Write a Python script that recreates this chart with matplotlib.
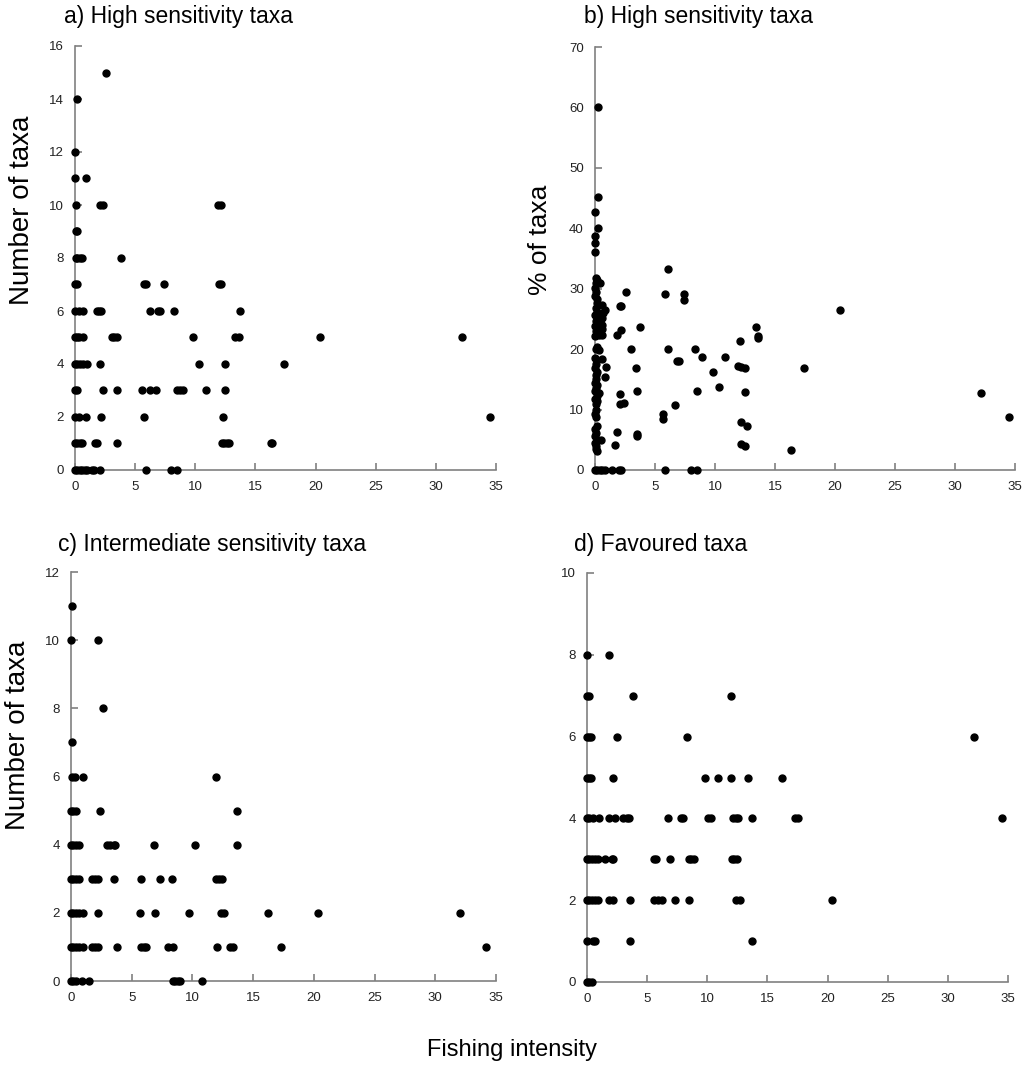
import matplotlib
matplotlib.use("Agg")
import matplotlib.pyplot as plt

plt.rcParams['font.family'] = ['Liberation Sans', 'DejaVu Sans']

# ---------------- data ----------------
# a) High sensitivity taxa: number of taxa vs fishing intensity
a_x = [2.6,
       0.2,
       0.0,
       0.0, 0.9,
       0.1, 2.1, 2.3, 11.9, 12.1,
       0.1, 0.2,
       0.05, 0.2, 0.4, 0.6, 3.8,
       0.0, 0.15, 5.75, 5.9, 7.4, 11.95, 12.1,
       0.0, 0.3, 0.65, 1.8, 2.0, 2.2, 6.2, 6.9, 7.1, 8.25, 13.7,
       0.0, 0.15, 0.35, 0.65, 3.05, 3.25, 3.5, 9.8, 13.3, 13.6, 20.4, 32.2,
       0.0, 0.2, 0.4, 0.65, 1.0, 2.1, 10.3, 12.5, 17.4,
       0.0, 0.2, 2.35, 3.5, 5.6, 6.2, 6.75, 8.5, 8.75, 9.0, 10.9, 12.5,
       0.0, 0.3, 0.9, 2.15, 5.7, 12.3, 34.5,
       0.0, 0.2, 0.4, 0.6, 1.7, 1.85, 3.5, 12.2, 12.4, 12.6, 12.8, 16.3, 16.4,
       0.0, 0.2, 0.4, 0.6, 0.8, 1.0, 1.4, 1.6, 2.1, 5.9, 8.0, 8.5]
a_y = [15,
       14,
       12,
       11, 11,
       10, 10, 10, 10, 10,
       9, 9,
       8, 8, 8, 8, 8,
       7, 7, 7, 7, 7, 7, 7,
       6, 6, 6, 6, 6, 6, 6, 6, 6, 6, 6,
       5, 5, 5, 5, 5, 5, 5, 5, 5, 5, 5, 5,
       4, 4, 4, 4, 4, 4, 4, 4, 4,
       3, 3, 3, 3, 3, 3, 3, 3, 3, 3, 3, 3,
       2, 2, 2, 2, 2, 2, 2,
       1, 1, 1, 1, 1, 1, 1, 1, 1, 1, 1, 1, 1,
       0, 0, 0, 0, 0, 0, 0, 0, 0, 0, 0, 0]

# b) High sensitivity taxa: % of taxa vs fishing intensity
b_x = [0.25, 0.25, 0.0, 0.25, 0.0, 0.0, 0.0,
       0.1, 0.2, 0.05, 0.4, 0.0, 0.1, 0.0, 0.15, 0.2, 0.55, 0.05, 0.2, 0.7,
       0.0, 0.3, 0.6, 0.1, 0.2, 0.55, 0.0, 0.35, 0.6, 0.1, 0.4, 0.3, 0.0, 0.6,
       0.2, 0.1, 0.3, 0.0, 0.55, 0.1, 0.9, 0.0, 0.2, 0.05, 0.8, 0.1, 0.0, 0.2,
       0.1, 0.0, 0.3, 0.15, 0.0, 0.2, 0.05, 0.1, 0.0, 0.05, 0.2, 0.0, 0.1, 0.0,
       0.5, 0.15, 0.0, 0.1, 0.05, 0.2,
       0.0, 0.2, 0.4, 0.6, 0.8, 1.4, 2.0, 2.2, 5.8, 8.0, 8.5,
       6.1, 5.8, 7.4, 7.4, 2.55, 2.1, 2.2, 0.85, 3.75, 2.15, 1.8, 3.0, 6.1,
       8.3, 8.9, 6.8, 7.0, 10.8, 12.1, 13.4, 13.6, 13.6, 9.8, 10.3, 11.9, 12.2,
       12.5, 12.5, 3.4, 3.5, 8.5, 2.1, 2.1, 2.4, 6.7, 5.65, 5.65, 1.8, 3.5, 3.5,
       12.2, 12.7, 12.2, 12.5, 1.7, 20.4, 17.4, 16.3, 32.2, 34.5]
b_y = [60.1, 45.1, 42.7, 40.1, 38.8, 37.6, 36.1,
       31.8, 31.4, 31.0, 30.9, 30.2, 29.5, 28.8, 28.3, 27.6, 27.3, 26.8, 26.2, 25.9,
       25.6, 25.3, 25.1, 24.7, 24.3, 24.0, 23.8, 23.6, 23.4, 23.0, 22.8, 22.3, 22.2, 22.4,
       20.4, 20.0, 19.8, 18.6, 18.4, 17.5, 17.1, 16.8, 16.2, 15.8, 15.4, 15.0, 14.4, 14.0,
       13.5, 13.1, 12.8, 12.3, 11.8, 11.4, 10.9, 10.0, 9.3, 8.8, 7.3, 6.8, 6.2, 5.6,
       5.0, 5.0, 4.5, 4.0, 3.5, 3.1,
       0, 0, 0, 0, 0, 0, 0, 0, 0, 0, 0,
       33.3, 29.2, 29.2, 28.2, 29.4, 27.2, 27.2, 26.4, 23.6, 23.2, 22.3, 20.0, 20.0,
       20.0, 18.7, 18.1, 18.1, 18.7, 21.3, 23.7, 22.1, 21.8, 16.2, 13.8, 17.2, 17.0,
       16.8, 12.9, 16.8, 13.0, 13.0, 12.5, 10.9, 11.1, 10.7, 9.2, 8.4, 6.3, 5.9, 5.7,
       8.0, 7.2, 4.3, 3.9, 4.2, 26.4, 16.8, 3.3, 12.8, 8.7]

# c) Intermediate sensitivity taxa: number of taxa vs fishing intensity
c_x = [0.05,
       0.0, 2.2,
       2.6,
       0.05,
       0.1, 0.3, 0.95, 11.95,
       0.0, 0.2, 0.4, 2.4, 13.65,
       0.0, 0.2, 0.4, 0.65, 2.95, 3.2, 3.5, 3.6, 6.8, 10.2, 13.65,
       0.0, 0.2, 0.4, 0.65, 1.75, 2.0, 2.2, 3.55, 5.8, 7.3, 8.3, 11.9, 12.15, 12.4,
       0.0, 0.2, 0.4, 0.65, 0.95, 2.2, 5.7, 6.9, 9.75, 12.35, 12.6, 16.2, 20.3, 32.0,
       0.0, 0.2, 0.4, 0.65, 0.95, 1.7, 2.0, 2.2, 3.8, 5.8, 6.0, 6.2, 7.95, 8.4,
       12.0, 13.1, 13.3, 17.3, 34.2,
       0.0, 0.2, 0.4, 0.9, 1.5, 8.4, 8.6, 8.8, 9.0, 10.8]
c_y = [11,
       10, 10,
       8,
       7,
       6, 6, 6, 6,
       5, 5, 5, 5, 5,
       4, 4, 4, 4, 4, 4, 4, 4, 4, 4, 4,
       3, 3, 3, 3, 3, 3, 3, 3, 3, 3, 3, 3, 3, 3,
       2, 2, 2, 2, 2, 2, 2, 2, 2, 2, 2, 2, 2, 2,
       1, 1, 1, 1, 1, 1, 1, 1, 1, 1, 1, 1, 1, 1,
       1, 1, 1, 1, 1,
       0, 0, 0, 0, 0, 0, 0, 0, 0, 0]

# d) Favoured taxa: number of taxa vs fishing intensity
d_x = [0.0, 1.8,
       0.0, 0.15, 3.8, 12.0,
       0.0, 0.15, 0.35, 2.5, 8.35, 32.2,
       0.0, 0.15, 0.3, 2.15, 9.8, 10.9, 11.95, 13.4, 16.25,
       0.0, 0.2, 0.5, 1.0, 1.8, 2.35, 3.0, 3.3, 3.5, 6.7, 7.8, 8.0, 10.1, 10.3,
       12.15, 12.35, 12.55, 13.7, 17.3, 17.5, 34.5,
       0.0, 0.2, 0.45, 0.65, 0.9, 1.5, 2.1, 2.2, 5.55, 5.7, 6.9, 8.45, 8.65, 8.9,
       12.05, 12.25, 12.5,
       0.0, 0.2, 0.45, 0.65, 0.9, 1.8, 2.15, 3.6, 5.55, 5.9, 6.2, 7.3, 8.5,
       12.4, 12.7, 20.4,
       0.0, 0.5, 0.7, 3.55, 13.7,
       0.0, 0.2, 0.45]
d_y = [8, 8,
       7, 7, 7, 7,
       6, 6, 6, 6, 6, 6,
       5, 5, 5, 5, 5, 5, 5, 5, 5,
       4, 4, 4, 4, 4, 4, 4, 4, 4, 4, 4, 4, 4, 4,
       4, 4, 4, 4, 4, 4, 4,
       3, 3, 3, 3, 3, 3, 3, 3, 3, 3, 3, 3, 3, 3,
       3, 3, 3,
       2, 2, 2, 2, 2, 2, 2, 2, 2, 2, 2, 2, 2,
       2, 2, 2,
       1, 1, 1, 1, 1,
       0, 0, 0]

titles = ["a) High sensitivity taxa", "b) High sensitivity taxa",
          "c) Intermediate sensitivity taxa", "d) Favoured taxa"]
ylabels = ["Number of taxa", "% of taxa", "Number of taxa", None]
xlabel = "Fishing intensity"
x_ticks = [0, 5, 10, 15, 20, 25, 30, 35]
y_ticks = [list(range(0, 17, 2)), list(range(0, 71, 10)),
           list(range(0, 13, 2)), list(range(0, 11, 2))]

# ---------------- figure ----------------
W, H = 1025, 1081
fig = plt.figure(figsize=(W / 100, H / 100), dpi=100)

def rect(l, r, t, b):
    return [l / W, 1 - b / H, (r - l) / W, (b - t) / H]

axes_rects = [rect(75, 496, 46, 470), rect(595, 1015, 47, 470),
              rect(71, 496, 572, 981), rect(587, 1008, 573, 982)]
title_pos = [(64, 16), (584, 16), (58, 545), (574, 545)]
ylabel_pos = [(22, 210, 20), (540, 240, 19), (18, 735, 20)]
data = [(a_x, a_y), (b_x, b_y), (c_x, c_y), (d_x, d_y)]
spine_col = "#808080"

for i, (r, (xs, ys)) in enumerate(zip(axes_rects, data)):
    ax = fig.add_axes(r)
    ax.plot(xs, ys, 'o', color='black', markersize=5, clip_on=False,
            linestyle='none', zorder=3)
    ax.set_xlim(0, 35)
    ax.set_ylim(y_ticks[i][0], y_ticks[i][-1])
    ax.set_xticks(x_ticks)
    ax.set_yticks(y_ticks[i])
    for s in ['top', 'right']:
        ax.spines[s].set_visible(False)
    for s in ['left', 'bottom']:
        ax.spines[s].set_color(spine_col)
        ax.spines[s].set_linewidth(1.2)
    ax.tick_params(direction='in', length=5, width=1.2, color=spine_col,
                   labelsize=9.5, labelcolor='#222222', pad=8)
    tx, ty = title_pos[i]
    fig.text(tx / W, 1 - ty / H, titles[i], fontsize=16.5,
             ha='left', va='center')
    if ylabels[i]:
        lx, ly, fs = ylabel_pos[i]
        fig.text(lx / W, 1 - ly / H, ylabels[i], fontsize=fs,
                 rotation=90, ha='center', va='center')

fig.text(512 / W, 1 - 1050 / H, xlabel, fontsize=17, ha='center', va='center')

fig.savefig("out.png", dpi=100)
